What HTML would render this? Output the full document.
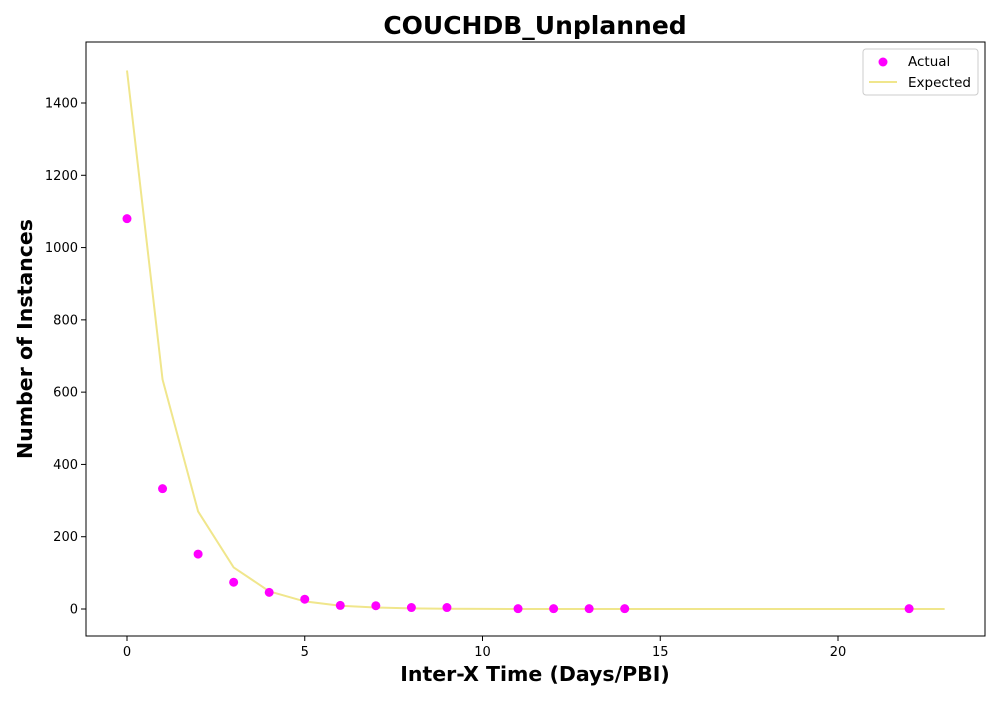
<!DOCTYPE html>
<html><head><meta charset="utf-8"><style>
body{margin:0;background:#fff;font-family:"DejaVu Sans","Liberation Sans",sans-serif}
svg text{font-family:"DejaVu Sans","Liberation Sans",sans-serif}
</style></head><body>
<svg width="1000" height="700" xmlns="http://www.w3.org/2000/svg" id="svg">
<rect width="1000" height="700" fill="#fff"/>
<text x="535" y="34" text-anchor="middle" font-size="25" font-weight="bold">COUCHDB_Unplanned</text>
<text x="535" y="681" text-anchor="middle" font-size="20.5" font-weight="bold">Inter-X Time (Days/PBI)</text>
<text transform="translate(32,339) rotate(-90)" text-anchor="middle" font-size="20.5" font-weight="bold">Number of Instances</text>
<g id="ticks"></g>
<g id="marks"></g>
<rect x="86" y="42" width="899" height="594" fill="none" stroke="#000" stroke-width="1"/>
<g>
<rect x="863" y="49" width="115" height="46" rx="3" fill="#fff" stroke="#ccc"/>
<circle cx="883" cy="62" r="4.5" fill="#ff00ff"/>
<text x="908" y="66" font-size="13.5">Actual</text>
<line x1="869" y1="82" x2="897" y2="82" stroke="#f0e68c" stroke-width="2"/>
<text x="908" y="87" font-size="13.5">Expected</text>
</g>
</svg>
<script>
const actualX=[0,1,2,3,4,5,6,7,8,9,11,12,13,14,22];
const actualY=[1080,333,152,74,46,27,10,9,4,4,1,1,1,1,1];
const expectedX=[0,1,2,3,4,5,6,7,8,9,10,11,12,13,14,15,16,17,18,19,20,21,22,23];
const expectedY=[1490,635,270,115,49,21,9,4,1.6,0.7,0.3,0.1,0,0,0,0,0,0,0,0,0,0,0,0];
const xTicks=[0,5,10,15,20];
const yTicks=[0,200,400,600,800,1000,1200,1400];
const NS="http://www.w3.org/2000/svg";
const sx=v=>127+v*(838-127)/20;
const sy=v=>609-v*(609-103)/1400;
const tg=document.getElementById('ticks'),mg=document.getElementById('marks');
function mk(tag,at,p){const e=document.createElementNS(NS,tag);for(const k in at)e.setAttribute(k,at[k]);p.appendChild(e);return e;}
xTicks.forEach(t=>{
 const l=mk('line',{x1:sx(t),x2:sx(t),y1:636,y2:641,stroke:'#000'},tg);
 
 
 const tx=mk('text',{x:sx(t),y:656,'text-anchor':'middle','font-size':13},tg);tx.textContent=t;
 
 
});
yTicks.forEach(t=>{
 const l=mk('line',{x1:81,x2:86,y1:sy(t),y2:sy(t),stroke:'#000'},tg);
 
 
 const tx=mk('text',{x:78,y:sy(t)+4.5,'text-anchor':'end','font-size':13},tg);tx.textContent=t;
 
 
});
const pl=mk('polyline',{points:expectedX.map((x,i)=>sx(x)+','+sy(expectedY[i])).join(' '),fill:'none',stroke:'#f0e68c','stroke-width':2},mg);


actualX.forEach((x,i)=>{
 const c=mk('circle',{cx:sx(x),cy:sy(actualY[i]),r:4.5,fill:'#ff00ff'},mg);
 
 
});
</script>
</body></html>
